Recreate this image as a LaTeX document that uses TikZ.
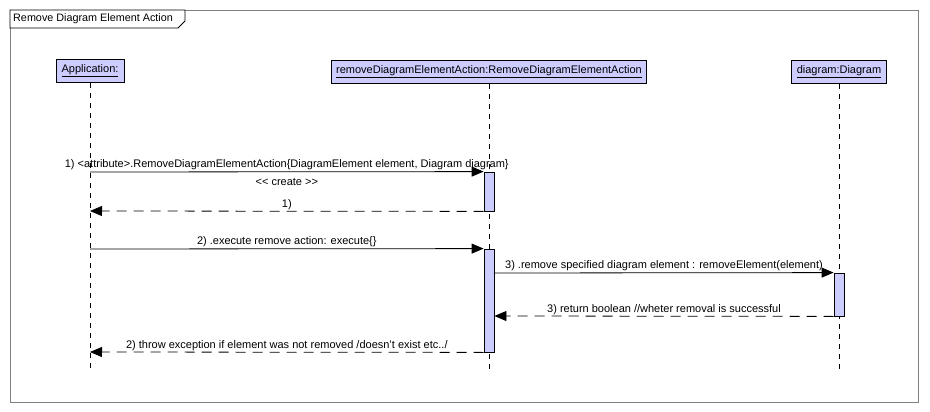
\documentclass[tikz,border=0pt]{standalone}
\usepackage{fontspec}
\setmainfont{Liberation Sans}
\usetikzlibrary{arrows.meta}
\definecolor{objfill}{RGB}{204,204,255}
\definecolor{framegray}{RGB}{128,128,128}
\tikzset{
  objbox/.style={draw=black, fill=objfill, line width=0.8pt, minimum height=23pt, inner xsep=5pt, font=\fontsize{11}{12}\selectfont},
  lifeline/.style={draw=black, line width=0.7pt, dash pattern=on 5pt off 5pt},
  actbar/.style={draw=black, fill=objfill, line width=0.8pt, minimum width=10pt, inner sep=0pt},
  call/.style={draw=black, line width=0.8pt, -{Triangle[length=12pt,width=10pt]}},
  reply/.style={draw=black, line width=0.8pt, dash pattern=on 10pt off 7pt, -{Triangle[length=12pt,width=10pt]}},
  msg/.style={font=\fontsize{11}{12}\selectfont, inner sep=1.5pt}
}
\begin{document}
\begin{tikzpicture}[x=1pt,y=-1pt]
\useasboundingbox (0,0) rectangle (930,412);
\fill[white] (0,0) rectangle (930,412);
% frame and title tab
\draw[framegray, line width=0.8pt] (10,10) rectangle (918,402);
\draw[black, fill=white, line width=0.8pt] (10,10) -- (185,10) -- (185,21) -- (178,28) -- (10,28) -- cycle;
\node[anchor=west, font=\fontsize{10.8}{12}\selectfont, inner sep=0pt] (title) at (13,19) {Remove Diagram Element Action};
% objects
\node[objbox, minimum width=68pt] (app) at (90,71) {\underline{Application:}};
\node[objbox, minimum width=315pt] (act) at (489,72) {\underline{removeDiagramElementAction:RemoveDiagramElementAction}};
\node[objbox, minimum width=92pt] (dia) at (839,72) {\underline{diagram:Diagram}};
% lifelines
\coordinate (append) at (90,372);
\coordinate (actend) at (489,372);
\coordinate (diaend) at (839,372);
\draw[lifeline] (app.south) -- (append);
\draw[lifeline] (act.south) -- (actend);
\draw[lifeline] (dia.south) -- (diaend);
% activation bars
\node[actbar, minimum height=39pt] (bar1) at (489,191.5) {};
\node[actbar, minimum height=103pt] (bar2) at (489,300.5) {};
\node[actbar, minimum height=43pt] (bar3) at (839,294.5) {};
% message anchors on the lifelines
\coordinate (m1s) at (90,172);
\coordinate (r1e) at (90,211);
\coordinate (m2s) at (90,249);
\coordinate (r2e) at (90,352);
% messages
\draw[call] (m1s) -- (bar1.north west)
  node[msg, midway, above] {1) <attribute>.RemoveDiagramElementAction\{DiagramElement element, Diagram diagram\}}
  node[msg, midway, below, yshift=-5pt] {<{}< create >{}>};
\draw[reply] (bar1.south west) -- (r1e) node[msg, midway, above] {1)};
\draw[call] (m2s) -- (bar2.north west) node[msg, midway, above] {2) .execute remove action: execute\{\}};
\draw[call] (bar2.east |- 0,273) -- (bar3.north west) node[msg, midway, above] {3) .remove specified diagram element : removeElement(element)};
\draw[reply] (bar3.south west) -- (bar2.east |- 0,316) node[msg, midway, above] {3) return boolean //wheter removal is successful};
\draw[reply] (bar2.south west) -- (r2e) node[msg, midway, above] {2) throw exception if element was not removed /doesn't exist etc../};
\end{tikzpicture}
\end{document}
